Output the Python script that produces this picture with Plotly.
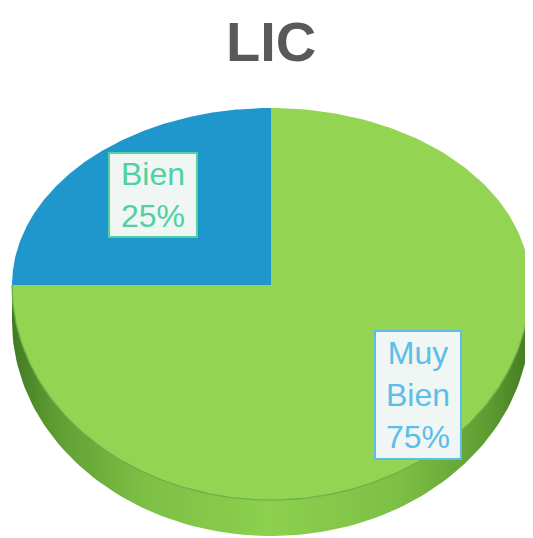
import numpy as np
import plotly.graph_objects as go

# data (Excel draws slices clockwise from 12 o'clock)
labels = ["Muy Bien", "Bien"]
values = [75, 25]
top_colors = ["#93D552", "#1F97CC"]
label_colors = ["#5BBEE8", "#4FD1A0"]
title_text = "LIC"

W, H = 533, 538
OFF = 8                # default page body margin
cx, cy = 271, 285      # centre of the top face (pixels in the screenshot)
rx = 259
ry_back, ry_front = 177, 215   # perspective: far half flatter than near half
depth = 36

def ellipse_pt(theta, dy=0.0):
    ry = np.where(np.sin(theta) >= 0, ry_back, ry_front)
    return cx + rx * np.cos(theta), cy - ry * np.sin(theta) + dy

total = sum(values)
fig = go.Figure()

cum = np.cumsum([0] + values)
starts = np.pi / 2 - 2 * np.pi * cum[:-1] / total
ends = np.pi / 2 - 2 * np.pi * cum[1:] / total

# side walls (only the front half, theta in [-pi, 0], is visible)
for i in range(len(values)):
    a0, a1 = ends[i], starts[i]
    segs = []
    for shift in (0.0, 2 * np.pi):
        lo, hi = max(a0 + shift, -np.pi), min(a1 + shift, 0.0)
        if lo < hi:
            segs.append((lo, hi))
    for lo, hi in segs:
        t = np.linspace(lo, hi, 120)
        xt, yt = ellipse_pt(t)
        xb, yb = ellipse_pt(t[::-1], depth)
        xs = np.concatenate([xt, xb, xt[:1]])
        ys = np.concatenate([yt, yb, yt[:1]])
        fig.add_trace(go.Scatter(
            x=xs, y=ys, mode="lines", line=dict(width=0),
            fill="toself",
            fillgradient=dict(type="horizontal", colorscale=[
                [0, "#427A22"], [0.08, "#5E9C32"], [0.25, "#7DBF45"],
                [0.5, "#8CD04E"], [0.75, "#7DBF45"], [0.92, "#5E9C32"],
                [1, "#427A22"]]),
            hoverinfo="skip", showlegend=False))

# top face slices
for i in range(len(values)):
    t = np.linspace(starts[i], ends[i], 200)
    xe, ye = ellipse_pt(t)
    xs = np.concatenate([[cx], xe, [cx]])
    ys = np.concatenate([[cy], ye, [cy]])
    fig.add_trace(go.Scatter(
        x=xs, y=ys, mode="lines", line=dict(width=0),
        fill="toself", fillcolor=top_colors[i],
        name=labels[i], hoverinfo="name", showlegend=False))

# rim line between top face and side
t = np.linspace(-np.pi, 0, 200)
xr, yr = ellipse_pt(t)
fig.add_trace(go.Scatter(x=xr, y=yr, mode="lines",
                         line=dict(color="#6CAF48", width=1.3),
                         hoverinfo="skip", showlegend=False))

# data labels
label_pos = [(418, 395), (153, 195)]
label_size = [(82, 124), (84, 80)]
for i in range(len(values)):
    pct = round(100 * values[i] / total)
    txt = labels[i].replace(" ", "<br>") + f"<br>{pct}%"
    fig.add_annotation(
        x=label_pos[i][0], y=label_pos[i][1], text=txt, showarrow=False,
        font=dict(family="Liberation Sans, Arial", size=32, color=label_colors[i]),
        bgcolor="#EFF6F3", bordercolor=label_colors[i], borderwidth=2,
        borderpad=1, width=label_size[i][0], height=label_size[i][1],
        align="center", valign="middle")

# chart title
fig.add_annotation(
    x=271, y=OFF + 1, xanchor="center", yanchor="top",
    text=f"<b>{title_text}</b>", showarrow=False, borderpad=0,
    font=dict(family="Liberation Sans, Arial", size=56, color="#595959"))

fig.update_layout(
    width=W, height=H,
    margin=dict(l=0, r=0, t=0, b=0),
    paper_bgcolor="white", plot_bgcolor="white",
    xaxis=dict(range=[OFF, W + OFF], visible=False, fixedrange=True),
    yaxis=dict(range=[H + OFF, OFF], visible=False, fixedrange=True),
)

fig.write_html("out.html")
